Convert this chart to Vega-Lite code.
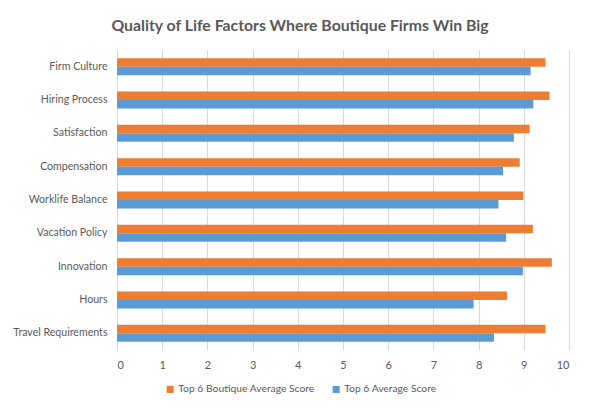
{
  "$schema": "https://vega.github.io/schema/vega-lite/v6.json",
  "autosize": "none",
  "width": 452,
  "height": 300,
  "padding": {"left": 117, "top": 50, "right": 31, "bottom": 70},
  "background": "white",
  "title": {
    "text": "Quality of Life Factors Where Boutique Firms Win Big",
    "font": "Lato",
    "fontSize": 15.8,
    "fontWeight": "bold",
    "color": "#595959",
    "anchor": "middle",
    "dx": -43,
    "offset": 15
  },
  "data": {
    "values": [
      {"factor": "Firm Culture", "series": "Top 6 Boutique Average Score", "score": 9.48},
      {"factor": "Firm Culture", "series": "Top 6 Average Score", "score": 9.15},
      {"factor": "Hiring Process", "series": "Top 6 Boutique Average Score", "score": 9.57},
      {"factor": "Hiring Process", "series": "Top 6 Average Score", "score": 9.21},
      {"factor": "Satisfaction", "series": "Top 6 Boutique Average Score", "score": 9.13},
      {"factor": "Satisfaction", "series": "Top 6 Average Score", "score": 8.78},
      {"factor": "Compensation", "series": "Top 6 Boutique Average Score", "score": 8.91},
      {"factor": "Compensation", "series": "Top 6 Average Score", "score": 8.54},
      {"factor": "Worklife Balance", "series": "Top 6 Boutique Average Score", "score": 8.99},
      {"factor": "Worklife Balance", "series": "Top 6 Average Score", "score": 8.44},
      {"factor": "Vacation Policy", "series": "Top 6 Boutique Average Score", "score": 9.2},
      {"factor": "Vacation Policy", "series": "Top 6 Average Score", "score": 8.61},
      {"factor": "Innovation", "series": "Top 6 Boutique Average Score", "score": 9.62},
      {"factor": "Innovation", "series": "Top 6 Average Score", "score": 8.98},
      {"factor": "Hours", "series": "Top 6 Boutique Average Score", "score": 8.63},
      {"factor": "Hours", "series": "Top 6 Average Score", "score": 7.89},
      {"factor": "Travel Requirements", "series": "Top 6 Boutique Average Score", "score": 9.48},
      {"factor": "Travel Requirements", "series": "Top 6 Average Score", "score": 8.34}
    ]
  },
  "mark": {"type": "bar"},
  "encoding": {
    "y": {
      "field": "factor",
      "type": "nominal",
      "sort": null,
      "title": null,
      "scale": {"paddingInner": 0.49, "paddingOuter": 0.245},
      "axis": {
        "ticks": false,
        "domain": false,
        "labelPadding": 10,
        "labelFont": "Lato",
        "labelFontSize": 10.6,
        "labelColor": "#595959"
      }
    },
    "yOffset": {
      "field": "series",
      "type": "nominal",
      "sort": ["Top 6 Boutique Average Score", "Top 6 Average Score"]
    },
    "x": {
      "field": "score",
      "type": "quantitative",
      "title": null,
      "scale": {"domain": [0, 10], "nice": false},
      "axis": {
        "values": [0, 1, 2, 3, 4, 5, 6, 7, 8, 9, 10],
        "ticks": false,
        "domain": false,
        "grid": true,
        "gridColor": "#d9d9d9",
        "labelPadding": 9,
        "labelFont": "Lato",
        "labelFontSize": 11,
        "labelColor": "#595959"
      }
    },
    "color": {
      "field": "series",
      "type": "nominal",
      "title": null,
      "scale": {
        "domain": ["Top 6 Boutique Average Score", "Top 6 Average Score"],
        "range": ["#ED7D31", "#5B9BD5"]
      },
      "legend": {
        "orient": "none",
        "direction": "horizontal",
        "legendX": 48,
        "legendY": 334,
        "symbolType": "square",
        "symbolSize": 50,
        "symbolStrokeWidth": 0,
        "labelFont": "Lato",
        "labelFontSize": 10.3,
        "labelColor": "#595959",
        "labelOffset": 3,
        "columnPadding": 16,
        "labelLimit": 300
      }
    }
  },
  "config": {"view": {"stroke": null}}
}
